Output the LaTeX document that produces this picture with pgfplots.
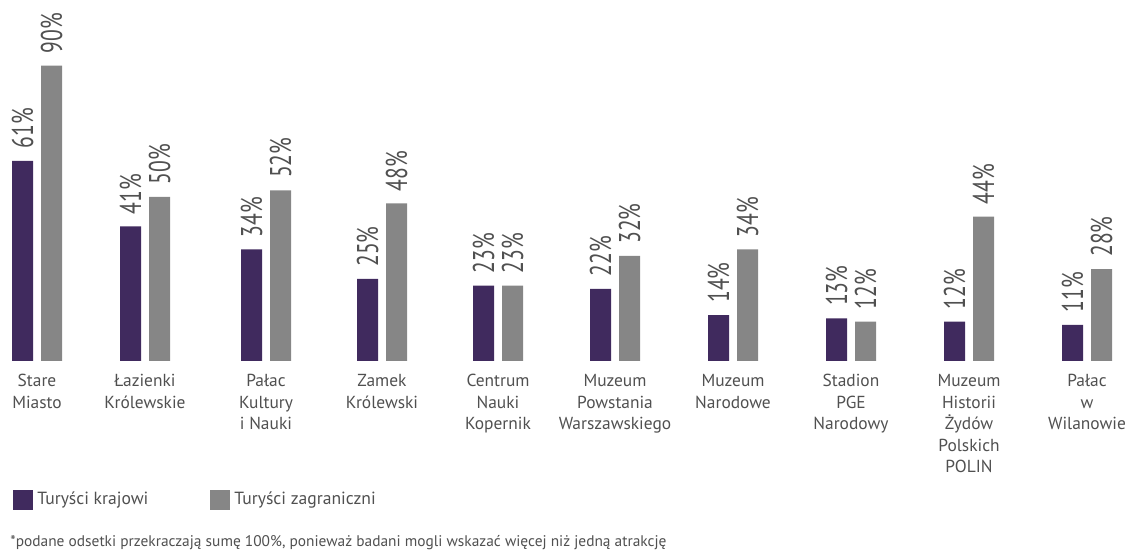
\documentclass[border=0pt]{standalone}
\usepackage{fontspec}
\setmainfont{PT Sans}
\newfontfamily\cond[FakeStretch=0.72]{PT Sans}
\usepackage{pgfplots}
\pgfplotsset{compat=1.18}
\definecolor{krajowi}{HTML}{402A5E}
\definecolor{zagr}{HTML}{868686}
\definecolor{txt}{HTML}{505050}

\pgfplotstableread{
x    krajowi zagraniczni
37   61 90
145  41 50
266  34 52
382  25 48
498  23 23
615  22 32
733  14 34
851  13 12
969  12 44
1087 11 28
}\dane

\begin{document}
\begin{tikzpicture}
\path[use as bounding box] (0,-95pt) rectangle (562.5pt,180.5pt);
\begin{axis}[
    at={(0,0)}, anchor=south west,
    scale only axis,
    width=562.5pt, height=180.5pt,
    xmin=0, xmax=1125, ymin=0, ymax=110,
    ybar=4pt, bar width=10.5pt,
    axis line style={draw=none},
    tick style={draw=none},
    major tick length=0pt,
    ytick=\empty,
    xtick={37,145,266,382,498,615,733,851,969,1087},
    xticklabels={{Stare\\Miasto},{Łazienki\\Królewskie},{Pałac\\Kultury\\i Nauki},
        {Zamek\\Królewski},{Centrum\\Nauki\\Kopernik},{Muzeum\\Powstania\\Warszawskiego},
        {Muzeum\\Narodowe},{Stadion\\PGE\\Narodowy},{Muzeum\\Historii\\Żydów\\Polskich\\POLIN},
        {Pałac\\w\\Wilanowie}},
    xticklabel style={align=center, anchor=north, inner sep=0pt, yshift=-6.5pt,
        font=\fontsize{8.7}{10.8}\selectfont, text=txt},
    nodes near coords={\pgfmathprintnumber{\pgfplotspointmeta}\%},
    /pgf/number format/assume math mode=true,
    every node near coord/.append style={rotate=90, anchor=west, inner ysep=0pt, inner xsep=6pt,
        font=\cond\fontsize{15}{16}\selectfont, text=txt},
    legend columns=2,
    legend style={at={(axis description cs:0.0115,-0.385)}, anchor=west, draw=none, fill=none,
        inner sep=0pt, font=\fontsize{8.8}{10.5}\selectfont, text=txt,
        /tikz/every even column/.append style={column sep=29pt}},
    legend cell align=left,
    clip=false,
]
\addplot[fill=krajowi, draw=none,
    legend image code/.code={\fill[krajowi] (0pt,-5pt) rectangle (10pt,5pt);}]
    table[x=x, y=krajowi] {\dane};
\addplot[fill=zagr, draw=none,
    legend image code/.code={\fill[zagr] (0pt,-5pt) rectangle (10pt,5pt);}]
    table[x=x, y=zagraniczni] {\dane};
\legend{Turyści krajowi, Turyści zagraniczni}
\node[anchor=west, inner sep=0pt, text=txt, font=\fontsize{7.7}{10}\selectfont]
    at (axis description cs:0.0089,-0.504)
    {*podane odsetki przekraczają sumę 100\%, ponieważ badani mogli wskazać więcej niż jedną atrakcję};
\end{axis}
\end{tikzpicture}
\end{document}
